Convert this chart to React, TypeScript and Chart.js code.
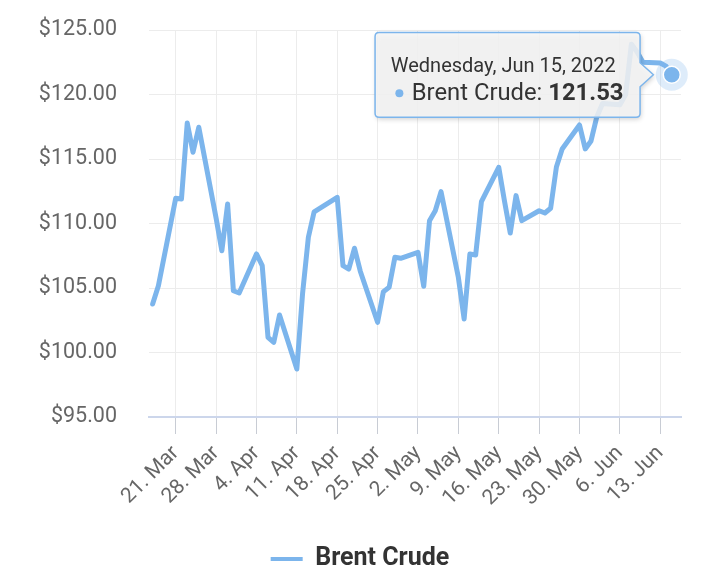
import React, { useEffect, useRef } from "react";
import { Chart, registerables } from "chart.js";

Chart.register(...registerables);

const SERIES_NAME = "Brent Crude";
const SERIES_COLOR = "#7cb5ec";

const DATES = [
  "2022-03-17", "2022-03-18", "2022-03-21", "2022-03-22", "2022-03-23", "2022-03-24", "2022-03-25",
  "2022-03-28", "2022-03-29", "2022-03-30", "2022-03-31", "2022-04-01",
  "2022-04-04", "2022-04-05", "2022-04-06", "2022-04-07", "2022-04-08",
  "2022-04-11", "2022-04-12", "2022-04-13", "2022-04-14",
  "2022-04-18", "2022-04-19", "2022-04-20", "2022-04-21", "2022-04-22",
  "2022-04-25", "2022-04-26", "2022-04-27", "2022-04-28", "2022-04-29",
  "2022-05-02", "2022-05-03", "2022-05-04", "2022-05-05", "2022-05-06",
  "2022-05-09", "2022-05-10", "2022-05-11", "2022-05-12", "2022-05-13",
  "2022-05-16", "2022-05-17", "2022-05-18", "2022-05-19", "2022-05-20",
  "2022-05-23", "2022-05-24", "2022-05-25", "2022-05-26", "2022-05-27",
  "2022-05-30", "2022-05-31", "2022-06-01", "2022-06-02", "2022-06-03",
  "2022-06-06", "2022-06-07", "2022-06-08", "2022-06-09", "2022-06-10",
  "2022-06-13", "2022-06-14", "2022-06-15",
];

const PRICES = [
  103.76, 105.18, 111.95, 111.9, 117.79, 115.52, 117.46,
  110.43, 107.89, 111.51, 104.79, 104.61,
  107.64, 106.73, 101.18, 100.79, 102.91,
  98.72, 104.6, 108.93, 110.91,
  112.03, 106.73, 106.47, 108.08, 106.3,
  102.34, 104.71, 105.05, 107.38, 107.3,
  107.77, 105.13, 110.22, 110.99, 112.47,
  105.83, 102.6, 107.64, 107.56, 111.69,
  114.36, 111.74, 109.26, 112.16, 110.22,
  110.99, 110.81, 111.18, 114.38, 115.78,
  117.64, 115.78, 116.4, 118.26, 119.3,
  119.2, 120.0, 123.9, 123.3, 122.5,
  122.44, 122.2, 121.53,
];

const TICK_DATES = [
  "2022-03-21", "2022-03-28", "2022-04-04", "2022-04-11", "2022-04-18", "2022-04-25",
  "2022-05-02", "2022-05-09", "2022-05-16", "2022-05-23", "2022-05-30", "2022-06-06", "2022-06-13",
];
const TICK_LABELS = [
  "21. Mar", "28. Mar", "4. Apr", "11. Apr", "18. Apr", "25. Apr",
  "2. May", "9. May", "16. May", "23. May", "30. May", "6. Jun", "13. Jun",
];

const Y_MIN = 95;
const Y_MAX = 125;
const Y_STEP = 5;

const TOOLTIP_TITLE = "Wednesday, Jun 15, 2022";
const TOOLTIP_LABEL = "Brent Crude: ";
const TOOLTIP_VALUE = "121.53";

const BASE = Date.UTC(2022, 2, 21);
const dayOf = (s: string) => {
  const [y, m, d] = s.split("-").map(Number);
  return (Date.UTC(y, m - 1, d) - BASE) / 86400000;
};

const X_MIN = -4.63;
const X_MAX = 87.6;

const FONT = "Roboto";

const hoverPlugin = {
  id: "hoverTip",
  afterDatasetsDraw(chart: any) {
    const meta = chart.getDatasetMeta(0);
    const el = meta.data[meta.data.length - 1];
    if (!el) return;
    const { x, y } = el;
    const ctx = chart.ctx;
    ctx.save();
    ctx.beginPath();
    ctx.arc(x, y, 16, 0, Math.PI * 2);
    ctx.fillStyle = "rgba(124,181,236,0.25)";
    ctx.fill();
    ctx.beginPath();
    ctx.arc(x, y, 8.5, 0, Math.PI * 2);
    ctx.fillStyle = SERIES_COLOR;
    ctx.fill();
    ctx.lineWidth = 1.5;
    ctx.strokeStyle = "#ffffff";
    ctx.stroke();
    ctx.restore();
  },
  afterDraw(chart: any) {
    const meta = chart.getDatasetMeta(0);
    const el = meta.data[meta.data.length - 1];
    if (!el) return;
    const { x, y } = el;
    const ctx = chart.ctx;
    const L = x - 296.7;
    const R = x - 31.7;
    const T = y - 42.3;
    const B = y + 42.4;
    const r = 4;
    const tipX = x - 18.4;
    const ch = 12;
    ctx.save();
    ctx.beginPath();
    ctx.moveTo(L + r, T);
    ctx.lineTo(R - r, T);
    ctx.quadraticCurveTo(R, T, R, T + r);
    ctx.lineTo(R, y - ch);
    ctx.lineTo(tipX, y);
    ctx.lineTo(R, y + ch);
    ctx.lineTo(R, B - r);
    ctx.quadraticCurveTo(R, B, R - r, B);
    ctx.lineTo(L + r, B);
    ctx.quadraticCurveTo(L, B, L, B - r);
    ctx.lineTo(L, T + r);
    ctx.quadraticCurveTo(L, T, L + r, T);
    ctx.closePath();
    ctx.shadowColor = "rgba(0,0,0,0.22)";
    ctx.shadowBlur = 5;
    ctx.shadowOffsetX = 1;
    ctx.shadowOffsetY = 2;
    ctx.fillStyle = "rgba(247,247,247,0.85)";
    ctx.fill();
    ctx.shadowColor = "transparent";
    ctx.lineWidth = 1.5;
    ctx.strokeStyle = SERIES_COLOR;
    ctx.stroke();

    ctx.fillStyle = "#333333";
    ctx.textBaseline = "alphabetic";
    ctx.textAlign = "left";
    ctx.font = `20px ${FONT}`;
    ctx.fillText(TOOLTIP_TITLE, L + 15.7, y - 2.6);

    ctx.beginPath();
    ctx.arc(L + 24.3, y + 18.4, 4, 0, Math.PI * 2);
    ctx.fillStyle = SERIES_COLOR;
    ctx.fill();

    ctx.fillStyle = "#333333";
    ctx.font = `23.8px ${FONT}`;
    const bx = L + 36.7;
    ctx.fillText(TOOLTIP_LABEL, bx, y + 25.7);
    const w = ctx.measureText(TOOLTIP_LABEL).width;
    ctx.font = `bold 23.8px ${FONT}`;
    ctx.fillText(TOOLTIP_VALUE, bx + w, y + 25.7);
    ctx.restore();
  },
};

export default function App() {
  const ref = useRef<HTMLCanvasElement | null>(null);

  useEffect(() => {
    if (!ref.current) return;
    const data = DATES.map((d, i) => ({ x: dayOf(d), y: PRICES[i] }));
    const tickDays = TICK_DATES.map(dayOf);
    const chart = new Chart(ref.current, {
      type: "line",
      data: {
        datasets: [
          {
            label: SERIES_NAME,
            data,
            borderColor: SERIES_COLOR,
            backgroundColor: SERIES_COLOR,
            borderWidth: 5,
            pointRadius: 0,
            pointHoverRadius: 0,
            tension: 0,
            fill: false,
            borderJoinStyle: "round",
            borderCapStyle: "round",
          },
        ],
      },
      options: {
        responsive: false,
        animation: false,
        events: [],
        layout: { padding: { top: 30, left: 0, right: 0, bottom: -5.5 } },
        scales: {
          x: {
            type: "linear",
            min: X_MIN,
            max: X_MAX,
            afterBuildTicks: (scale: any) => {
              scale.ticks = tickDays.map((v) => ({ value: v }));
            },
            afterFit: (scale: any) => {
              scale.height = 119.5;
            },
            grid: {
              color: "#ececec",
              lineWidth: 1,
              tickLength: 17,
              tickColor: "#c8ccd4",
              drawTicks: true,
            },
            border: { display: true, color: "#ccd6eb", width: 2 },
            ticks: {
              autoSkip: false,
              minRotation: 45,
              maxRotation: 45,
              padding: 7,
              color: "#666666",
              font: { family: FONT, size: 21 },
              callback: (_v: any, i: number) => TICK_LABELS[i],
            },
          },
          y: {
            type: "linear",
            min: Y_MIN,
            max: Y_MAX,
            afterFit: (scale: any) => {
              scale.width = 149;
              scale.paddingTop = 0;
              scale.paddingBottom = 0;
            },
            grid: { color: "#ececec", lineWidth: 1, drawTicks: false },
            border: { display: false },
            ticks: {
              stepSize: Y_STEP,
              padding: 32,
              color: "#666666",
              font: { family: FONT, size: 21.5 },
              callback: (v: any) => "$" + Number(v).toFixed(2),
            },
          },
          yR: {
            type: "linear",
            position: "right",
            display: true,
            afterFit: (scale: any) => {
              scale.width = 39;
              scale.paddingTop = 0;
              scale.paddingBottom = 0;
            },
            grid: { display: false, drawTicks: false },
            border: { display: false },
            ticks: { display: false },
          },
        },
        plugins: {
          tooltip: { enabled: false },
          legend: {
            display: true,
            position: "bottom",
            labels: {
              boxWidth: 32,
              boxHeight: 4,
              padding: 10,
              color: "#333333",
              font: { family: FONT, size: 25, weight: "bold" },
              generateLabels: () => [
                {
                  text: SERIES_NAME,
                  fillStyle: SERIES_COLOR,
                  strokeStyle: SERIES_COLOR,
                  lineWidth: 0,
                  hidden: false,
                  datasetIndex: 0,
                  fontColor: "#333333",
                } as any,
              ],
            },
          },
        },
      },
      plugins: [hoverPlugin],
    } as any);
    return () => chart.destroy();
  }, []);

  return (
    <div style={{ position: "absolute", left: 0, top: 0, width: 720, height: 576, background: "#ffffff" }}>
      <canvas ref={ref} width={720} height={576} style={{ display: "block" }} />
    </div>
  );
}
